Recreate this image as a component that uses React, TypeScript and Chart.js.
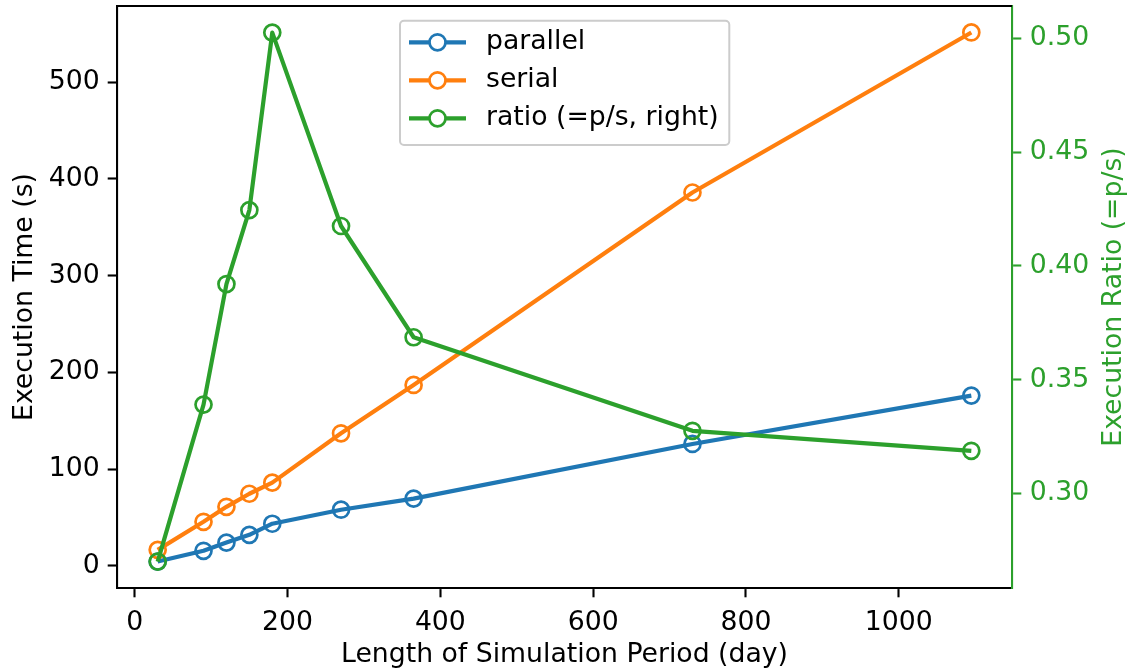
import React, { useEffect, useRef } from 'react';
import { Chart, registerables } from 'chart.js';

Chart.register(...registerables);

// ---- data ----
const days = [30, 90, 120, 150, 180, 270, 365, 730, 1095];
const parallelTime = [4.4, 15.5, 24, 32, 43.5, 58, 69.5, 126, 176];
const serialTime = [16.5, 45.5, 61, 74.5, 86, 137, 187, 386, 551.5];
const ratioValues = [0.27, 0.339, 0.392, 0.4245, 0.5025, 0.4175, 0.3686, 0.3275, 0.3187];

const xTicks = [0, 200, 400, 600, 800, 1000];
const leftTicks = [0, 100, 200, 300, 400, 500];
const rightTicks = [0.3, 0.35, 0.4, 0.45, 0.5];

const seriesLabels = ['parallel', 'serial', 'ratio (=p/s, right)'];
const seriesColors = ['#1f77b4', '#ff7f0e', '#2ca02c'];

const xTitle = 'Length of Simulation Period (day)';
const leftTitle = 'Execution Time (s)';
const rightTitle = 'Execution Ratio (=p/s)';

const FAMILY = '"DejaVu Sans", sans-serif';
const FS = 26.7;
const W = 1130;
const H = 671;

const decorPlugin = {
  id: 'decor',
  afterDraw(chart: any) {
    const { ctx, chartArea: a } = chart;
    ctx.save();
    // top spine
    ctx.strokeStyle = '#000';
    ctx.lineWidth = 2.1;
    ctx.beginPath();
    ctx.moveTo(a.left - 1, a.top);
    ctx.lineTo(a.right, a.top);
    ctx.stroke();
    ctx.restore();

    // right axis title (reads bottom to top)
    ctx.save();
    ctx.translate(chart.width - 16, (a.top + a.bottom) / 2);
    ctx.rotate(-Math.PI / 2);
    ctx.fillStyle = seriesColors[2];
    ctx.font = `${FS}px ${FAMILY}`;
    ctx.textAlign = 'center';
    ctx.textBaseline = 'middle';
    ctx.fillText(rightTitle, 0, 0);
    ctx.restore();

    // legend
    ctx.save();
    const bx = 400, by = 20.7, bw = 329.3, bh = 124.3;
    ctx.beginPath();
    (ctx as any).roundRect(bx, by, bw, bh, 4);
    ctx.fillStyle = 'rgba(255,255,255,0.8)';
    ctx.fill();
    ctx.strokeStyle = '#cccccc';
    ctx.lineWidth = 2;
    ctx.stroke();
    chart.data.datasets.forEach((ds: any, i: number) => {
      const y = 42.3 + i * 38;
      ctx.strokeStyle = ds.borderColor;
      ctx.lineWidth = 4.2;
      ctx.beginPath();
      ctx.moveTo(409, y);
      ctx.lineTo(466, y);
      ctx.stroke();
      ctx.beginPath();
      ctx.arc(437.5, y, 8, 0, Math.PI * 2);
      ctx.fillStyle = '#ffffff';
      ctx.fill();
      ctx.lineWidth = 2.7;
      ctx.stroke();
      ctx.fillStyle = '#000';
      ctx.font = `${FS}px ${FAMILY}`;
      ctx.textAlign = 'left';
      ctx.textBaseline = 'middle';
      ctx.fillText(ds.label, 486, y);
    });
    ctx.restore();
  },
};

function makeDataset(i: number, values: number[], axis: string, order: number) {
  return {
    label: seriesLabels[i],
    data: days.map((d, k) => ({ x: d, y: values[k] })),
    borderColor: seriesColors[i],
    backgroundColor: 'rgba(0,0,0,0)',
    pointBorderColor: seriesColors[i],
    pointBackgroundColor: 'rgba(0,0,0,0)',
    pointRadius: 8,
    pointHoverRadius: 8,
    pointBorderWidth: 2.7,
    borderWidth: 4.2,
    borderJoinStyle: 'round',
    tension: 0,
    fill: false,
    yAxisID: axis,
    order,
  };
}

export default function App() {
  const ref = useRef<HTMLCanvasElement | null>(null);

  useEffect(() => {
    if (!ref.current) return;
    const tickFont = { family: FAMILY, size: FS };
    const chart = new Chart(ref.current, {
      type: 'line',
      data: {
        datasets: [
          makeDataset(0, parallelTime, 'y', 3),
          makeDataset(1, serialTime, 'y', 2),
          makeDataset(2, ratioValues, 'y1', 1),
        ] as any,
      },
      options: {
        responsive: false,
        animation: false,
        events: [],
        layout: { padding: { top: 6, left: 0, right: 0, bottom: 0 }, autoPadding: false } as any,
        plugins: {
          legend: { display: false },
          tooltip: { enabled: false },
        },
        scales: {
          x: {
            type: 'linear',
            min: -23.25,
            max: 1148.25,
            afterBuildTicks: (s: any) => {
              s.ticks = xTicks.map((v) => ({ value: v }));
            },
            afterFit: (s: any) => {
              s.height = 83;
              s.paddingLeft = 0;
              s.paddingRight = 0;
            },
            ticks: {
              autoSkip: false,
              maxRotation: 0,
              padding: 9.5,
              color: '#000',
              font: tickFont,
              callback: (v: any) => String(v),
            },
            grid: {
              display: true,
              drawOnChartArea: false,
              drawTicks: true,
              tickLength: 9.3,
              tickWidth: 2.1,
              tickColor: '#000',
            },
            border: { display: true, color: '#000', width: 2.1 },
            title: {
              display: true,
              text: xTitle,
              color: '#000',
              font: { family: FAMILY, size: FS, lineHeight: 1.2 },
              padding: { top: 0, bottom: 0 },
            },
          },
          y: {
            type: 'linear',
            position: 'left',
            min: -22.96,
            max: 578.86,
            afterBuildTicks: (s: any) => {
              s.ticks = leftTicks.map((v) => ({ value: v }));
            },
            afterFit: (s: any) => {
              s.width = 117;
              s.paddingTop = 0;
              s.paddingBottom = 0;
            },
            ticks: {
              autoSkip: false,
              padding: 8,
              color: '#000',
              font: tickFont,
              callback: (v: any) => String(v),
            },
            grid: {
              display: true,
              drawOnChartArea: false,
              drawTicks: true,
              tickLength: 9.3,
              tickWidth: 2.1,
              tickColor: '#000',
            },
            border: { display: true, color: '#000', width: 2.1 },
            title: {
              display: true,
              text: leftTitle,
              color: '#000',
              font: { family: FAMILY, size: FS, lineHeight: 1.2 },
              padding: { top: 9.2, bottom: 0 },
            },
          },
          y1: {
            type: 'linear',
            position: 'right',
            min: 0.2584,
            max: 0.5142,
            afterBuildTicks: (s: any) => {
              s.ticks = rightTicks.map((v) => ({ value: v }));
            },
            afterFit: (s: any) => {
              s.width = 118;
              s.paddingTop = 0;
              s.paddingBottom = 0;
            },
            ticks: {
              autoSkip: false,
              padding: 8.5,
              color: seriesColors[2],
              font: tickFont,
              callback: (v: any) => Number(v).toFixed(2),
            },
            grid: {
              display: true,
              drawOnChartArea: false,
              drawTicks: true,
              tickLength: 9.3,
              tickWidth: 2.1,
              tickColor: seriesColors[2],
            },
            border: { display: true, color: seriesColors[2], width: 2.1 },
            title: { display: false },
          },
        },
      } as any,
      plugins: [decorPlugin],
    });
    return () => chart.destroy();
  }, []);

  return (
    <div style={{ position: 'absolute', left: 0, top: 0, width: W, height: H, background: '#fff' }}>
      <canvas ref={ref} width={W} height={H} style={{ display: 'block', width: W, height: H }} />
    </div>
  );
}
